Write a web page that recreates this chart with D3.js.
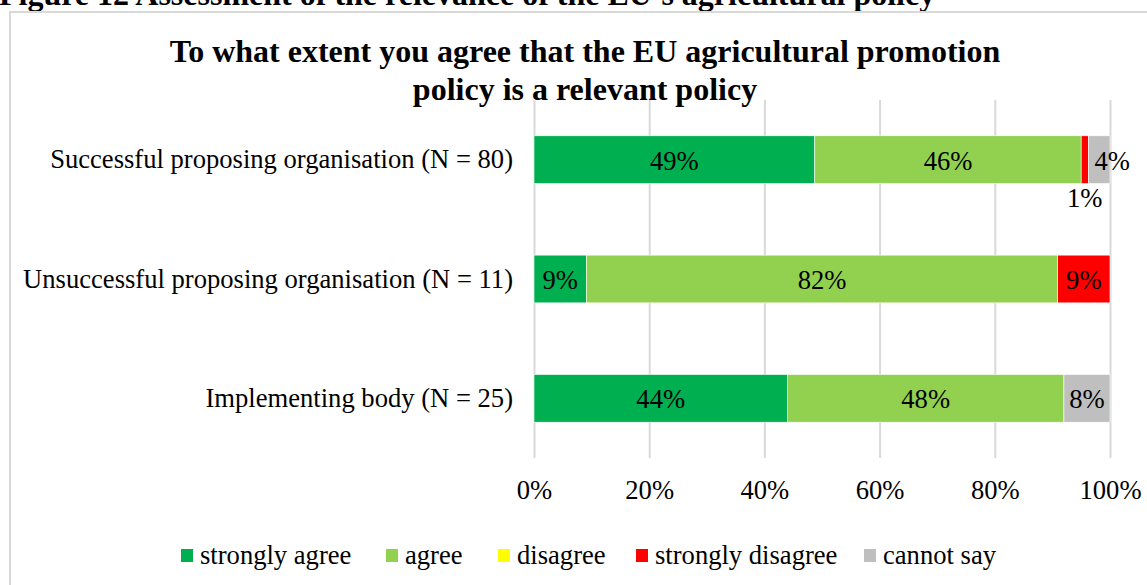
<!DOCTYPE html>
<html>
<head>
<meta charset="utf-8">
<script src="https://cdn.jsdelivr.net/npm/d3@7"></script>
<style>
  html, body { margin: 0; padding: 0; background: #fff; }
  svg { display: block; font-family: "Liberation Serif", "Times New Roman", serif; }
</style>
</head>
<body>
<svg id="chart" width="1147" height="585"></svg>
<script>
// ---- data ----
const categories = [
  "Successful proposing organisation (N = 80)",
  "Unsuccessful proposing organisation (N = 11)",
  "Implementing body (N = 25)"
];
const seriesNames = ["strongly agree", "agree", "disagree", "strongly disagree", "cannot say"];
const stronglyAgree   = [48.75, 9.09, 44];
const agree           = [46.25, 81.82, 48];
const disagree        = [0, 0, 0];
const stronglyDisagree= [1.25, 9.09, 0];
const cannotSay       = [3.75, 0, 8];
const xTicks = [0, 20, 40, 60, 80, 100];
const seriesColors = ["#00B050", "#92D050", "#FFFF00", "#FF0000", "#BFBFBF"];
const captionText = "Figure 12 Assessment of the relevance of the EU\u2019s agricultural policy";
const titleLines = ["To what extent you agree that the EU agricultural promotion", "policy is a relevant policy"];

const seriesValues = [stronglyAgree, agree, disagree, stronglyDisagree, cannotSay];
const rows = categories.map((c, i) => {
  const r = { category: c };
  seriesNames.forEach((s, j) => r[s] = seriesValues[j][i]);
  return r;
});

const FONT = "Liberation Serif, Times New Roman, serif";
const FS = 26.6;
const svg = d3.select("#chart");

// caption (cropped at top)
svg.append("text")
  .attr("x", -1).attr("y", 5)
  .attr("font-size", 32).attr("font-weight", "bold").attr("fill", "#000")
  .text(captionText);

// chart border
svg.append("rect")
  .attr("x", 10).attr("y", 12).attr("width", 1160).attr("height", 600)
  .attr("fill", "none").attr("stroke", "#d9d9d9").attr("stroke-width", 2);

// title
svg.selectAll("text.title").data(titleLines).join("text")
  .attr("class", "title")
  .attr("x", 585).attr("y", (d, i) => 62 + i * 38)
  .attr("text-anchor", "middle")
  .attr("font-size", 32).attr("font-weight", "bold").attr("fill", "#000")
  .text(d => d);

const x = d3.scaleLinear().domain([0, 100]).range([534, 1110]);
const y = d3.scaleBand().domain(categories).range([100, 458]).paddingInner(0.6).paddingOuter(0.3);

// gridlines
const grid = svg.append("g").attr("transform", "translate(0,458)")
  .call(d3.axisBottom(x).tickValues(xTicks).tickSize(-358).tickFormat(""));
grid.select(".domain").remove();
grid.selectAll(".tick line").attr("stroke", "#d9d9d9").attr("stroke-width", 2);

// x axis labels
const xAxis = svg.append("g").attr("transform", "translate(0,458)")
  .call(d3.axisBottom(x).tickValues(xTicks).tickSize(0).tickPadding(22).tickFormat(d => d + "%"));
xAxis.select(".domain").remove();
xAxis.selectAll("text").attr("font-size", FS).attr("font-family", FONT).attr("fill", "#000");

// y axis labels
const yAxis = svg.append("g").attr("transform", "translate(534,0)")
  .call(d3.axisLeft(y).tickSize(0).tickPadding(21));
yAxis.select(".domain").remove();
yAxis.selectAll("text").attr("font-size", FS).attr("font-family", FONT).attr("fill", "#000");

// stacked bars
const stack = d3.stack().keys(seriesNames);
const stacked = stack(rows);

const layers = svg.append("g").selectAll("g").data(stacked).join("g")
  .attr("fill", (d, i) => seriesColors[i]);
layers.selectAll("rect").data(d => d).join("rect")
  .attr("x", d => x(d[0]))
  .attr("y", d => y(d.data.category))
  .attr("width", d => x(d[1]) - x(d[0]))
  .attr("height", y.bandwidth())
  .attr("stroke", "#fff").attr("stroke-width", 0.6);

// data labels
const labelG = svg.append("g");
stacked.forEach((layer) => {
  layer.forEach((seg) => {
    const v = seg[1] - seg[0];
    if (v <= 0) return;
    const w = x(seg[1]) - x(seg[0]);
    const cy = y(seg.data.category) + y.bandwidth() / 2 + 1;
    const t = labelG.append("text")
      .attr("font-size", FS).attr("fill", "#000")
      .attr("dominant-baseline", "central")
      .text(Math.round(v) + "%");
    const tw = t.node().getComputedTextLength();
    const isLast = seg[1] >= 99.99;
    if (tw + 4 <= w) {
      t.attr("x", (x(seg[0]) + x(seg[1])) / 2).attr("y", cy).attr("text-anchor", "middle");
    } else if (isLast) {
      t.attr("x", x(seg[0]) + 6).attr("y", cy).attr("text-anchor", "start");
    } else {
      t.attr("x", (x(seg[0]) + x(seg[1])) / 2).attr("y", y(seg.data.category) + y.bandwidth() + 14).attr("text-anchor", "middle");
    }
  });
});

// legend
const legendX = [181, 386, 498, 636, 864];
const legend = svg.append("g").selectAll("g").data(seriesNames).join("g")
  .attr("transform", (d, i) => `translate(${legendX[i]},0)`);
legend.append("rect").attr("x", 0).attr("y", 549).attr("width", 12).attr("height", 13)
  .attr("fill", (d, i) => seriesColors[i]);
legend.append("text").attr("x", 19).attr("y", 555).attr("dominant-baseline", "central")
  .attr("font-size", FS).attr("fill", "#000").text(d => d);
</script>
</body>
</html>
